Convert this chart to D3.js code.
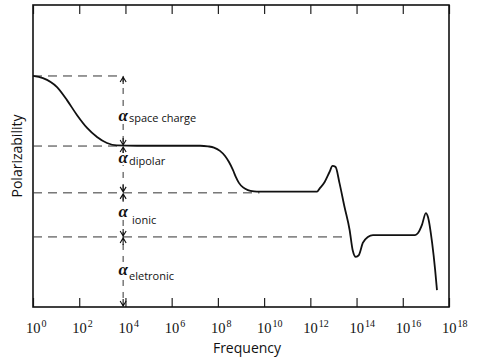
<!DOCTYPE html>
<html>
<head>
<meta charset="utf-8">
<script src="https://cdn.jsdelivr.net/npm/d3@7"></script>
<style>
  body { margin: 0; background: #fff; }
  text { fill: #111; }
</style>
</head>
<body>
<svg id="chart" width="485" height="360"></svg>
<script>
// frequency exponents (10^n) for ticks
const tickExps = [0, 2, 4, 6, 8, 10, 12, 14, 16, 18];

// polarizability curve, traced: log10(frequency) and polarizability (arb. units)
const curveExp = [0, 0.43, 1.04, 1.47, 1.9, 2.34, 2.77, 3.2, 3.63, 4.5, 6.5, 7.23,
  7.57, 7.83, 8.09, 8.31, 8.48, 8.65, 8.78, 8.91, 9.09, 9.3, 9.56, 9.82, 12.29,
  12.4, 12.62, 12.83, 12.96, 13.09, 13.26, 13.48, 13.7, 13.83, 13.97, 14.1, 14.27, 14.49, 14.71,
  16.53, 16.66, 16.83, 17.0, 17.09, 17.27, 17.4, 17.48];
const curvePol = [7.65, 7.58, 7.28, 6.85, 6.36, 5.93, 5.63, 5.43, 5.35, 5.34, 5.34, 5.34,
  5.32, 5.28, 5.17, 5.0, 4.8, 4.54, 4.3, 4.11, 3.96, 3.87, 3.83, 3.82, 3.82,
  3.92, 4.14, 4.47, 4.67, 4.64, 4.11, 3.31, 2.55, 1.89, 1.66, 1.72, 2.12, 2.32, 2.38,
  2.38, 2.45, 2.72, 3.11, 2.98, 2.12, 1.23, 0.56];

// dashed reference levels and where each stops (log10 f)
const refLevels = [7.65, 5.33, 3.78, 2.32];
const refEnds = [3.9, 3.9, 9.8, 13.5];
const markerExp = 3.9;

// contribution names (subscripts of alpha)
const contribNames = ["space charge", "dipolar", "ionic", "eletronic"];

const svg = d3.select("#chart");
const plotL = 33, plotR = 449, plotT = 5, plotB = 307;

const x = d3.scaleLinear().domain([0, 18]).range([plotL, plotR]);
const y = d3.scaleLinear().domain([0, 10]).range([plotB, plotT]);

// ticks, pointing inward, on bottom and top
const bottomAxis = svg.append("g")
  .attr("transform", `translate(0,${plotB})`)
  .call(d3.axisBottom(x).tickValues(tickExps).tickSize(-9).tickSizeOuter(0).tickFormat(""));
const topAxis = svg.append("g")
  .attr("transform", `translate(0,${plotT})`)
  .call(d3.axisTop(x).tickValues(tickExps).tickSize(-9).tickSizeOuter(0).tickFormat(""));
[bottomAxis, topAxis].forEach(g => {
  g.select(".domain").remove();
  g.selectAll(".tick line").attr("stroke", "#222").attr("stroke-width", 1.2);
});

// frame
svg.append("rect")
  .attr("x", plotL).attr("y", plotT)
  .attr("width", plotR - plotL).attr("height", plotB - plotT)
  .attr("fill", "none").attr("stroke", "#111").attr("stroke-width", 1.6);

// tick labels 10^n
const lab = svg.append("g").selectAll("text")
  .data(tickExps)
  .join("text")
  .attr("x", d => x(d) - 7)
  .attr("y", 333)
  .attr("font-family", "'Liberation Serif', serif")
  .attr("font-size", 14.5);
lab.append("tspan").text("10");
lab.append("tspan").attr("dx", 1).attr("dy", -6).attr("font-size", 10).text(d => d);

// axis titles
svg.append("text")
  .attr("x", 247).attr("y", 353)
  .attr("text-anchor", "middle")
  .attr("font-family", "'Open Sans', sans-serif")
  .attr("font-size", 14)
  .text("Frequency");
svg.append("text")
  .attr("transform", "translate(22,156) rotate(-90)")
  .attr("text-anchor", "middle")
  .attr("font-family", "'Open Sans', sans-serif")
  .attr("font-size", 14)
  .text("Polarizability");

// dashed horizontal levels
svg.append("g").selectAll("line")
  .data(refLevels)
  .join("line")
  .attr("x1", x(0)).attr("x2", (d, i) => x(refEnds[i]))
  .attr("y1", d => y(d)).attr("y2", d => y(d))
  .attr("stroke", "#333").attr("stroke-width", 1)
  .attr("stroke-dasharray", "9,6");

// vertical dashed marker
const mx = x(markerExp);
svg.append("line")
  .attr("x1", mx).attr("x2", mx)
  .attr("y1", y(refLevels[0])).attr("y2", plotB)
  .attr("stroke", "#333").attr("stroke-width", 1)
  .attr("stroke-dasharray", "6,6");

// arrowheads: up-pointing below each level, down-pointing above lower levels
const ah = 6, aw = 3;
const ups = refLevels;
const downs = refLevels.slice(1).concat([0]);
svg.append("g").selectAll("path")
  .data(ups)
  .join("path")
  .attr("d", d => `M${mx - aw},${y(d) + ah}L${mx},${y(d) + 1}L${mx + aw},${y(d) + ah}M${mx},${y(d) + 1}V${y(d) + ah + 2}`)
  .attr("fill", "none").attr("stroke", "#111").attr("stroke-width", 1.1);
svg.append("g").selectAll("path")
  .data(downs)
  .join("path")
  .attr("d", d => `M${mx - aw},${y(d) - ah}L${mx},${y(d) - 1}L${mx + aw},${y(d) - ah}M${mx},${y(d) - 1}V${y(d) - ah - 2}`)
  .attr("fill", "none").attr("stroke", "#111").attr("stroke-width", 1.1);

// alpha labels
const alphaBase = [121, 163, 217, 275];
const subDy = [1, 2, 7, 5];
const subX = [129, 129, 132, 129];
const lg = svg.append("g");
contribNames.forEach((name, i) => {
  lg.append("text")
    .attr("x", mx).attr("y", alphaBase[i])
    .attr("text-anchor", "middle")
    .attr("font-family", "'Liberation Serif', serif")
    .attr("font-style", "italic").attr("font-weight", "bold")
    .attr("font-size", 17)
    .attr("stroke", "#fff").attr("stroke-width", 4).attr("paint-order", "stroke")
    .text("α");
  lg.append("text")
    .attr("x", subX[i]).attr("y", alphaBase[i] + subDy[i])
    .attr("font-family", "'Open Sans', sans-serif")
    .attr("font-size", 11)
    .text(name);
});

// polarizability curve
const pts = curveExp.map((e, i) => [e, curvePol[i]]);
svg.append("path")
  .datum(pts)
  .attr("d", d3.line().x(d => x(d[0])).y(d => y(d[1])).curve(d3.curveMonotoneX))
  .attr("fill", "none").attr("stroke", "#111").attr("stroke-width", 1.8);
</script>
</body>
</html>
